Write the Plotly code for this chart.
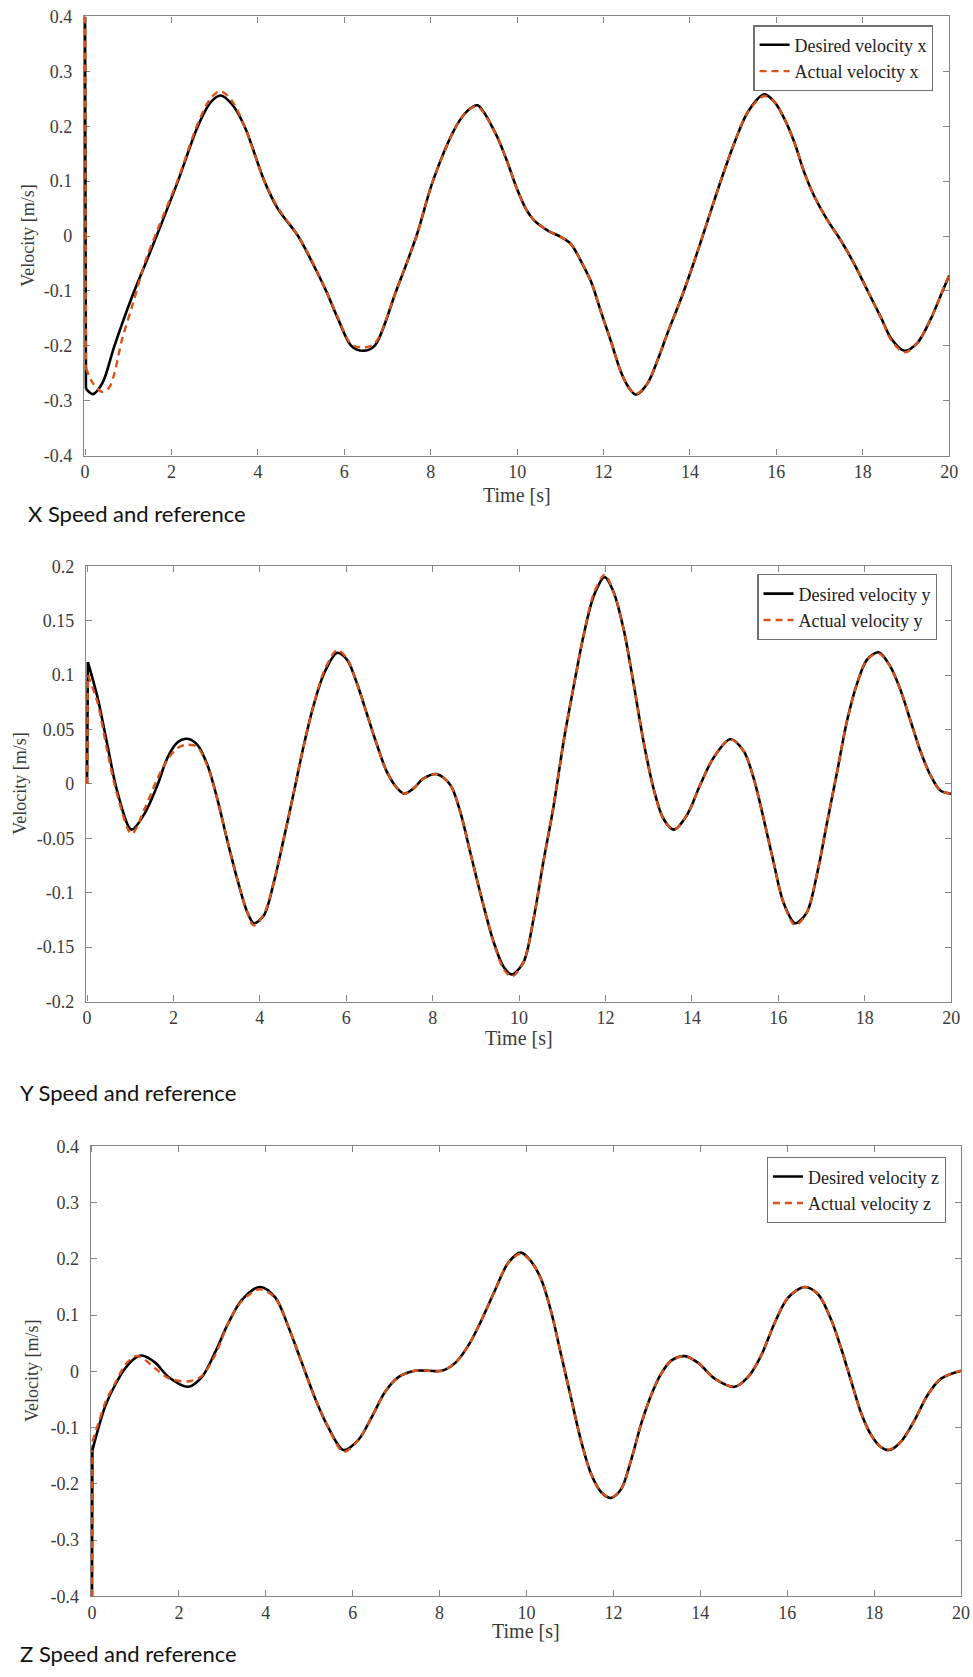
import plotly.graph_objects as go

# ---------------- data ----------------
t_x = [0, 0.02, 0.18, 0.4, 0.68, 1.1, 1.4, 1.68, 2.15, 2.61, 2.9, 3.13, 3.4, 3.69, 4.15,
       4.46, 4.93, 5.27, 5.58, 5.85, 6.16, 6.43, 6.7, 7.2, 7.67, 8.05, 8.59, 8.85, 9.08, 9.48,
       9.75, 10.0, 10.2, 10.4, 10.71, 11.02, 11.25, 11.48, 11.71, 11.94, 12.18, 12.41, 12.6, 12.75, 13.02,
       13.26, 13.49, 13.8, 14.1, 14.41, 14.72, 15.03, 15.34, 15.72, 15.96, 16.19, 16.42, 16.65, 16.88, 17.19,
       17.5, 17.81, 18.12, 18.43, 18.66, 18.97, 19.27, 19.58, 19.81, 20.0]
desired_x = [0.4, -0.278, -0.288, -0.268, -0.2, -0.108, -0.05, 0.005, 0.1, 0.2,
             0.243, 0.256, 0.24, 0.2, 0.1, 0.05, 0.0, -0.05, -0.1, -0.15,
             -0.2, -0.209, -0.2, -0.1, 0.0, 0.1, 0.2, 0.228, 0.238, 0.19,
             0.14, 0.085, 0.05, 0.028, 0.01, -0.002, -0.015, -0.046, -0.083, -0.138,
             -0.194, -0.249, -0.278, -0.289, -0.268, -0.224, -0.175, -0.113, -0.046, 0.028,
             0.102, 0.17, 0.226, 0.258, 0.244, 0.213, 0.17, 0.115, 0.072, 0.028,
             -0.009, -0.052, -0.101, -0.15, -0.187, -0.209, -0.194, -0.15, -0.107, -0.072]
t_x_act = [0, 0.02, 0.18, 0.4, 0.55, 0.68, 0.85, 1.1, 1.4, 1.68, 2.15, 2.61, 2.9, 3.13, 3.4, 3.69, 4.15,
           4.46, 4.93, 5.27, 5.58, 5.85, 6.16, 6.43, 6.7, 7.2, 7.67, 8.05, 8.59, 8.85, 9.08, 9.48,
           9.75, 10.0, 10.2, 10.4, 10.71, 11.02, 11.25, 11.48, 11.71, 11.94, 12.18, 12.41, 12.6, 12.75, 13.02,
           13.26, 13.49, 13.8, 14.1, 14.41, 14.72, 15.03, 15.34, 15.72, 15.96, 16.19, 16.42, 16.65, 16.88, 17.19,
           17.5, 17.81, 18.12, 18.43, 18.66, 18.97, 19.27, 19.58, 19.81, 20.0]
actual_x = [0.4, -0.24, -0.268, -0.284, -0.277, -0.25, -0.19, -0.125, -0.045, 0.012, 0.103, 0.205,
            0.25, 0.264, 0.246, 0.2, 0.1, 0.052, 0.0, -0.048, -0.1, -0.148,
            -0.197, -0.203, -0.196, -0.1, 0.0, 0.1, 0.2, 0.228, 0.236, 0.19,
            0.14, 0.085, 0.05, 0.028, 0.01, -0.002, -0.015, -0.046, -0.083, -0.138,
            -0.194, -0.249, -0.278, -0.288, -0.268, -0.224, -0.175, -0.113, -0.046, 0.028,
            0.102, 0.17, 0.226, 0.255, 0.244, 0.213, 0.17, 0.115, 0.072, 0.028,
            -0.009, -0.052, -0.101, -0.15, -0.19, -0.212, -0.194, -0.15, -0.107, -0.07]

t_y = [0, 0.02, 0.24, 0.47, 0.7, 1.03, 1.32, 1.63, 1.86, 2.09, 2.32, 2.55, 2.78, 3.01, 3.24,
       3.48, 3.71, 3.86, 4.09, 4.32, 4.55, 4.79, 5.02, 5.25, 5.48, 5.79, 6.02, 6.25, 6.48, 6.71,
       6.94, 7.18, 7.35, 7.56, 7.79, 8.1, 8.41, 8.64, 8.87, 9.1, 9.4, 9.64, 9.83, 10.1, 10.33,
       10.56, 10.8, 11.03, 11.26, 11.49, 11.73, 11.98, 12.19, 12.42, 12.65, 12.88, 13.11, 13.34, 13.58, 13.88,
       14.19, 14.5, 14.89, 15.2, 15.43, 15.66, 15.89, 16.12, 16.39, 16.66, 16.9, 17.13, 17.36, 17.59, 17.82,
       18.05, 18.32, 18.59, 18.83, 19.06, 19.29, 19.52, 19.75, 20.0]
desired_y = [0.0, 0.112, 0.08, 0.036, -0.007, -0.042, -0.028, -0.001, 0.024, 0.038,
             0.0415, 0.036, 0.018, -0.013, -0.051, -0.088, -0.118, -0.128, -0.121, -0.091,
             -0.051, -0.007, 0.036, 0.073, 0.101, 0.1205, 0.114, 0.092, 0.064, 0.036,
             0.011, -0.004, -0.009, -0.004, 0.005, 0.009, -0.001, -0.026, -0.063, -0.1,
             -0.144, -0.168, -0.175, -0.164, -0.125, -0.072, -0.02, 0.039, 0.089, 0.136,
             0.173, 0.19, 0.176, 0.142, 0.092, 0.039, -0.004, -0.032, -0.042, -0.029,
             -0.001, 0.024, 0.041, 0.03, 0.005, -0.032, -0.072, -0.109, -0.128, -0.118,
             -0.082, -0.035, 0.011, 0.058, 0.092, 0.114, 0.121, 0.108, 0.086, 0.058,
             0.03, 0.008, -0.006, -0.009]
actual_y = [0.0, 0.1, 0.075, 0.03, -0.01, -0.046, -0.024, 0.005, 0.022, 0.033,
            0.036, 0.034, 0.017, -0.013, -0.051, -0.088, -0.118, -0.13, -0.12, -0.091,
            -0.051, -0.007, 0.036, 0.073, 0.103, 0.123, 0.115, 0.092, 0.064, 0.036,
            0.011, -0.004, -0.009, -0.004, 0.005, 0.009, -0.001, -0.026, -0.063, -0.1,
            -0.144, -0.17, -0.177, -0.164, -0.125, -0.072, -0.02, 0.039, 0.089, 0.136,
            0.175, 0.192, 0.176, 0.142, 0.092, 0.039, -0.004, -0.032, -0.042, -0.029,
            -0.001, 0.024, 0.041, 0.03, 0.005, -0.032, -0.072, -0.109, -0.13, -0.118,
            -0.082, -0.035, 0.011, 0.058, 0.092, 0.114, 0.12, 0.108, 0.086, 0.058,
            0.03, 0.008, -0.006, -0.009]

t_z = [0, 0.01, 0.15, 0.31, 0.54, 0.77, 1.0, 1.15, 1.46, 1.76, 2.22, 2.53, 2.84, 3.14, 3.45,
       3.87, 4.22, 4.52, 4.83, 5.14, 5.44, 5.79, 6.13, 6.44, 6.75, 7.06, 7.44, 7.75, 8.05, 8.36,
       8.67, 8.97, 9.28, 9.58, 9.87, 10.11, 10.34, 10.57, 10.8, 11.03, 11.26, 11.49, 11.72, 11.95, 12.18,
       12.41, 12.64, 12.87, 13.1, 13.33, 13.64, 13.95, 14.33, 14.79, 15.1, 15.4, 15.71, 16.02, 16.4, 16.71,
       17.01, 17.24, 17.47, 17.7, 17.93, 18.16, 18.35, 18.62, 18.93, 19.23, 19.54, 20.0]
desired_z = [-0.4, -0.14, -0.1, -0.061, -0.023, 0.006, 0.024, 0.028, 0.015, -0.01,
             -0.0275, -0.01, 0.035, 0.086, 0.127, 0.15, 0.131, 0.079, 0.015, -0.049,
             -0.1, -0.14, -0.122, -0.081, -0.036, -0.01, 0.001, 0.001, 0.001, 0.015,
             0.047, 0.092, 0.145, 0.193, 0.211, 0.195, 0.163, 0.105, 0.028, -0.049,
             -0.125, -0.183, -0.215, -0.225, -0.209, -0.157, -0.093, -0.042, -0.004, 0.019,
             0.027, 0.015, -0.013, -0.0275, -0.01, 0.028, 0.086, 0.131, 0.15, 0.137,
             0.092, 0.041, -0.017, -0.074, -0.113, -0.135, -0.14, -0.125, -0.087, -0.042,
             -0.013, 0.001]
actual_z = [-0.4, -0.125, -0.092, -0.055, -0.02, 0.012, 0.027, 0.024, 0.005, -0.012,
            -0.018, -0.008, 0.03, 0.086, 0.125, 0.146, 0.13, 0.079, 0.015, -0.049,
            -0.1, -0.143, -0.122, -0.081, -0.036, -0.01, 0.001, 0.001, 0.001, 0.015,
            0.047, 0.092, 0.145, 0.193, 0.209, 0.195, 0.163, 0.105, 0.028, -0.049,
            -0.125, -0.183, -0.215, -0.224, -0.209, -0.157, -0.093, -0.042, -0.004, 0.019,
            0.027, 0.015, -0.013, -0.0275, -0.01, 0.028, 0.086, 0.131, 0.15, 0.137,
            0.092, 0.041, -0.017, -0.074, -0.113, -0.135, -0.139, -0.125, -0.087, -0.042,
            -0.013, 0.001]

x_ticks = [0, 2, 4, 6, 8, 10, 12, 14, 16, 18, 20]
y_ticks_xz = [-0.4, -0.3, -0.2, -0.1, 0, 0.1, 0.2, 0.3, 0.4]
y_ticktext_xz = ["-0.4", "-0.3", "-0.2", "-0.1", "0", "0.1", "0.2", "0.3", "0.4"]
y_ticks_y = [-0.2, -0.15, -0.1, -0.05, 0, 0.05, 0.1, 0.15, 0.2]
y_ticktext_y = ["-0.2", "-0.15", "-0.1", "-0.05", "0", "0.05", "0.1", "0.15", "0.2"]

names = [("Desired velocity x", "Actual velocity x"),
         ("Desired velocity y", "Actual velocity y"),
         ("Desired velocity z", "Actual velocity z")]
captions = ["X Speed and reference", "Y Speed and reference", "Z Speed and reference"]

# ---------------- layout geometry (figure pixels) ----------------
W, H = 973, 1677


def px(x):
    return x / W


def py(y):
    return 1 - y / H


panels = [  # left, right, top, bottom
    (82, 958, 6.5, 451),
    (84, 960, 563, 1003.5),
    (89, 970, 1150, 1605.5),
]
legend_box = [(942, 15.5), (946, 571), (954.5, 1161)]
ytitle_x = [25, 17, 30]
xtitle_y = [490.5, 1040, 1641]
caption_pos = [(23, 510), (15, 1096), (15, 1663)]

SERIF = "Liberation Serif"
AXCOL = "#858585"
TXT = "#3a3a3a"
ORANGE = "#D95319"

fig = go.Figure()
data = [(t_x, desired_x, t_x_act, actual_x), (t_y, desired_y, t_y, actual_y),
        (t_z, desired_z, t_z, actual_z)]
for i, (t, d, ta, a) in enumerate(data):
    sfx = "" if i == 0 else str(i + 1)
    leg = "legend" if i == 0 else f"legend{i + 1}"
    ax = dict(xaxis="x" + sfx, yaxis="y" + sfx)
    # initial jump at t = 0 (straight segment)
    fig.add_trace(go.Scatter(x=t[:2], y=d[:2], mode="lines", showlegend=False, hoverinfo="skip",
                             line=dict(color="black", width=2.6), **ax))
    fig.add_trace(go.Scatter(x=ta[:2], y=a[:2], mode="lines", showlegend=False, hoverinfo="skip",
                             line=dict(color=ORANGE, width=2.4, dash="7px,5px"), **ax))
    fig.add_trace(go.Scatter(x=t[1:], y=d[1:], mode="lines", name=names[i][0],
                             line=dict(color="black", width=2.6, shape="spline", smoothing=0.9),
                             legend=leg, **ax))
    fig.add_trace(go.Scatter(x=ta[1:], y=a[1:], mode="lines", name=names[i][1],
                             line=dict(color=ORANGE, width=2.4, dash="7px,5px", shape="spline", smoothing=0.9),
                             legend=leg, **ax))

layout = dict(width=W, height=H, margin=dict(l=0, r=0, t=0, b=0),
              paper_bgcolor="white", plot_bgcolor="white", annotations=[])

for i, (l, r, tp, bt) in enumerate(panels):
    sfx = "" if i == 0 else str(i + 1)
    yt = y_ticks_y if i == 1 else y_ticks_xz
    ytt = y_ticktext_y if i == 1 else y_ticktext_xz
    yr = [-0.2, 0.2] if i == 1 else [-0.4, 0.4]
    layout["xaxis" + sfx] = dict(
        domain=[px(l), px(r)], range=[-0.025, 20], anchor="y" + sfx,
        tickvals=x_ticks, ticktext=[str(v) for v in x_ticks],
        showline=True, linecolor=AXCOL, linewidth=1.4, mirror="ticks",
        ticks="inside", ticklen=6, tickcolor=AXCOL, showgrid=False, zeroline=False,
        layer="below traces",
        tickfont=dict(family=SERIF, size=18, color=TXT), ticklabelstandoff=0)
    layout["yaxis" + sfx] = dict(
        domain=[py(bt), py(tp)], range=yr, anchor="x" + sfx,
        tickvals=yt, ticktext=ytt,
        showline=True, linecolor=AXCOL, linewidth=1.4, mirror="ticks",
        ticks="inside", ticklen=6, tickcolor=AXCOL, showgrid=False, zeroline=False,
        layer="below traces",
        tickfont=dict(family=SERIF, size=18, color=TXT), ticklabelstandoff=7)
    lx, ly = legend_box[i]
    layout["legend" if i == 0 else f"legend{i + 1}"] = dict(
        x=px(lx), y=py(ly), xanchor="right", yanchor="top",
        bgcolor="white", bordercolor="#707070", borderwidth=1.2,
        font=dict(family=SERIF, size=18, color="#222222"),
        tracegroupgap=0, itemwidth=30)
    layout["annotations"].append(dict(
        text="Time [s]", x=px((l + r) / 2), y=py(xtitle_y[i]), xref="paper", yref="paper",
        showarrow=False, xanchor="center", yanchor="middle",
        font=dict(family=SERIF, size=20, color=TXT)))
    layout["annotations"].append(dict(
        text="Velocity [m/s]", x=px(ytitle_x[i]), y=py((tp + bt) / 2), xref="paper", yref="paper",
        showarrow=False, xanchor="center", yanchor="middle", textangle=-90,
        font=dict(family=SERIF, size=18, color=TXT)))
    cx, cy = caption_pos[i]
    layout["annotations"].append(dict(
        text=captions[i], x=px(cx), y=py(cy), xref="paper", yref="paper",
        showarrow=False, xanchor="left", yanchor="middle",
        font=dict(family="Lato", size=22, color="#111111")))

fig.update_layout(**layout)
fig.write_html("out.html", config={"displayModeBar": False},
               post_script="document.body.style.margin='0px';")
